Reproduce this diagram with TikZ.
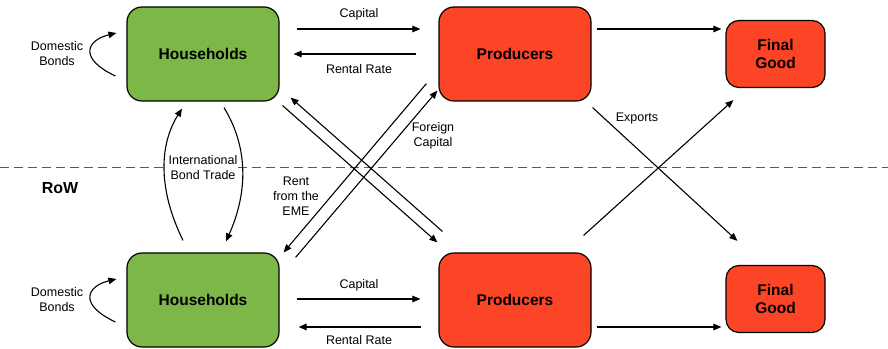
\documentclass[tikz,border=0pt]{standalone}
\usepackage{fontspec}
\setmainfont{Liberation Sans}
\usetikzlibrary{arrows.meta}
\definecolor{hhgreen}{RGB}{124,183,72}
\definecolor{prred}{RGB}{252,68,38}
\begin{document}
\begin{tikzpicture}[x=1pt,y=1pt,
  box/.style={draw=black, line width=1.2pt, rounded corners=15pt, font=\fontsize{15.5}{18.5}\selectfont\bfseries, align=center, inner sep=0pt},
  hh/.style={box, fill=hhgreen, minimum width=152pt, minimum height=94pt},
  pr/.style={box, fill=prred, minimum width=152pt, minimum height=94pt},
  fg/.style={box, fill=prred, minimum width=99pt, minimum height=67pt, rounded corners=13pt},
  arr/.style={line width=1.1pt, -{Triangle[length=8pt,width=6.5pt]}},
  lbl/.style={font=\fontsize{12.5}{15}\selectfont, align=center, inner sep=1pt},
  divider/.style={black!65, line width=0.9pt, dash pattern=on 9pt off 5pt},
]
\useasboundingbox (0,0) rectangle (888,348);

% divider
\draw[divider] (0,181) -- (888,181);

% boxes
\node[hh] (hh1) at (203,294) {Households};
\node[pr] (pr1) at (515,294) {Producers};
\node[fg] (fg1) at (775.5,294) {Final\\Good};
\node[hh] (hh2) at (203,48) {Households};
\node[pr] (pr2) at (515,48) {Producers};
\node[fg] (fg2) at (775.5,49) {Final\\Good};

% top row flows
\draw[arr] ([shift={(17,25)}]hh1.east) -- ([shift={(-18,25)}]pr1.west);
\draw[arr] ([shift={(-22,0)}]pr1.west) -- ([shift={(14,0)}]hh1.east);
\draw[arr] ([shift={(5,25)}]pr1.east) -- ([shift={(-4,25)}]fg1.west);
\node[lbl] (capt) at (359,334) {Capital};
\node[lbl] (rrt) at (359,279) {Rental Rate};

% bottom row flows
\draw[arr] ([shift={(17,1)}]hh2.east) -- ([shift={(-18,1)}]pr2.west);
\draw[arr] ([shift={(-17,-27)}]pr2.west) -- ([shift={(19,-27)}]hh2.east);
\draw[arr] ([shift={(5,-27)}]pr2.east) -- ([shift={(-4,-28)}]fg2.west);
\node[lbl] (capb) at (359,63) {Capital};
\node[lbl, inner sep=0pt] (rrb) at (359,7.5) {Rental Rate};

% domestic bonds
\draw[arr] ([shift={(-11,-22)}]hh1.west) .. controls +(-38,18) and +(-29,-7) .. ([shift={(-10,21)}]hh1.west);
\draw[arr] ([shift={(-11,-22)}]hh2.west) .. controls +(-38,18) and +(-29,-7) .. ([shift={(-10,21)}]hh2.west);
\node[lbl] (dbt) at (57,294) {Domestic\\Bonds};
\node[lbl] (dbb) at (57,48) {Domestic\\Bonds};

% international bond trade
\draw[arr] ([shift={(-20,12)}]hh2.north) .. controls +(-26,53) and +(-22,-35) .. ([shift={(-21,-7)}]hh1.south);
\draw[arr] ([shift={(21,-6)}]hh1.south) .. controls +(22,-36) and +(24,54) .. ([shift={(23,11)}]hh2.north);
\node[lbl, fill=white, inner sep=0.5pt] (ibt) at (203,180.5) {International\\Bond Trade};

% cross flows
\draw[arr] ([shift={(3,-4)}]hh1.south east) -- ([shift={(-1,10)}]pr2.north west);
\draw[arr] ([shift={(4,21)}]pr2.north west) -- ([shift={(11,4)}]hh1.south east);
\draw[arr] ([shift={(-12,18)}]pr1.south west) -- ([shift={(4,0)}]hh2.north east);
\draw[arr] ([shift={(16,-5)}]hh2.north east) -- ([shift={(-1,11)}]pr1.south west);
\node[lbl] (fc) at (433,212.5) {Foreign\\Capital};
\node[lbl] (rent) at (296,152) {Rent\\from the\\EME};

% exports
\draw[arr] ([shift={(1,-6)}]pr1.south east) -- ([shift={(12,24)}]fg2.north west);
\draw[arr] ([shift={(-8,17)}]pr2.north east) -- ([shift={(8,-12)}]fg1.south west);
\node[lbl] (exp) at (637,230) {Exports};

\node[font=\fontsize{16}{19}\selectfont\bfseries] (row) at (60,160) {RoW};
\end{tikzpicture}
\end{document}
